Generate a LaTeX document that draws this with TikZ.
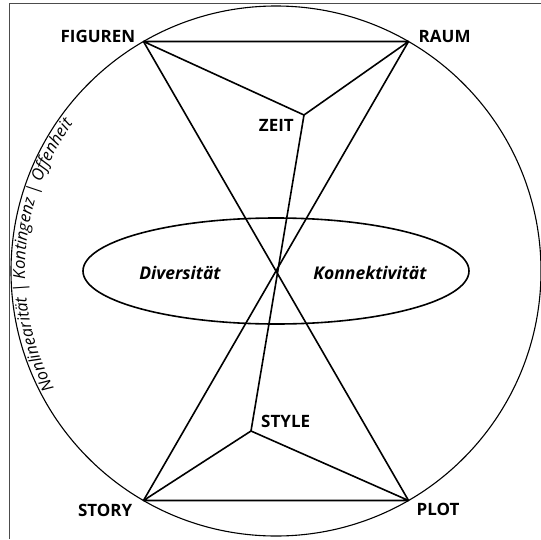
\documentclass[tikz,border=0pt]{standalone}
\usepackage{fontspec}
\setmainfont{Open Sans}
\usetikzlibrary{positioning,decorations.text}

\newcommand\arcfont{\fontsize{16.5}{19}\selectfont\itshape}

\begin{document}
\begin{tikzpicture}[x=1pt, y=1pt,
  edge/.style={line width=1.6pt, line join=round},
  vlabel/.style={font=\fontsize{17}{20}\selectfont\bfseries, inner sep=0pt},
  elabel/.style={font=\fontsize{17.5}{21}\selectfont\bfseries\itshape, inner sep=0pt}]

\useasboundingbox (-276,-268) rectangle (265,271);

% frame, only left and top
\draw[line width=0.8pt, black!70] (-267,-268) -- (-267,268) -- (265,268);

% outer circle
\draw[line width=1.1pt] (0,0) circle [radius=265];

% the six corners
\path
(120:265) coordinate (figuren)
(60:265) coordinate (raum)
(240:265) coordinate (story)
(300:265) coordinate (plot)
(28,156) coordinate (zeit)
(-25,-160) coordinate (style);

\node[vlabel, left=8pt of figuren, yshift=5pt] (figurenlabel) {FIGUREN};
\node[vlabel, right=10pt of raum, yshift=5pt] (raumlabel) {RAUM};
\node[vlabel, left=11pt of story, yshift=-10pt] (storylabel) {STORY};
\node[vlabel, right=8pt of plot, yshift=-9pt] (plotlabel) {PLOT};
\node[vlabel, below left=4pt and 10pt of zeit] (zeitlabel) {ZEIT};
\node[vlabel, above right=3pt and 10pt of style] (stylelabel) {STYLE};

% upper and lower triangle
\draw[edge] (figuren) -- (raum) -- (zeit) -- cycle;
\draw[edge] (story) -- (plot) -- (style) -- cycle;
% crossing lines
\draw[edge] (figuren) -- (plot);
\draw[edge] (raum) -- (story);
\draw[edge] (zeit) -- (style);

% middle oval
\draw[line width=1.6pt] (0,0) circle [x radius=193, y radius=53];
\node[elabel] (diversitaet) at (-96,-2) {Diversität};
\node[elabel] (konnektivitaet) at (94,-2) {Konnektivität};

% text along the circle
\path[decorate, decoration={text along path, text format delimiters={[}{]},
  text align=center,
  text={[\arcfont]Nonlinearität | Kontingenz | Offenheit}}]
  (217:251) arc[start angle=217, end angle=135, radius=251];

\end{tikzpicture}
\end{document}
